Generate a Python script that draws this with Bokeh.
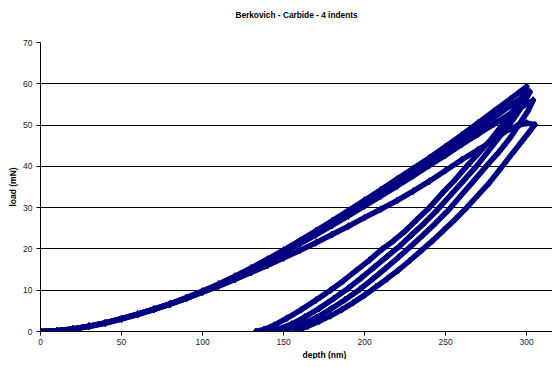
from bokeh.plotting import figure
from bokeh.models import Range1d, FixedTicker, Title
from bokeh.embed import file_html
from bokeh.resources import INLINE

title_text = "Berkovich - Carbide - 4 indents"
x_label = "depth (nm)"
y_label = "load (mN)"
x_ticks = [0, 50, 100, 150, 200, 250, 300]
y_ticks = [0, 10, 20, 30, 40, 50, 60, 70]

# indent 1 (highest peak)
ind1_load_depth = [0, 10, 20, 30, 40, 50, 60, 70, 80, 90, 100, 110, 120, 130, 140, 150, 160, 170, 180, 190, 200, 210, 220, 230, 240, 250, 260, 270, 280, 290, 300]
ind1_load_force = [0, 0.2, 0.6, 1.3, 2.1, 3.1, 4.2, 5.4, 6.7, 8.2, 9.8, 11.5, 13.4, 15.4, 17.5, 19.7, 22.0, 24.4, 26.8, 29.3, 31.8, 34.3, 36.9, 39.5, 42.1, 44.8, 47.6, 50.5, 53.4, 56.3, 59.3]
ind1_unload_depth = [300, 296, 291, 285, 278, 270, 263, 256, 248, 240, 232, 225, 218, 211, 203, 195, 187, 179, 170, 161, 152, 144, 138, 133]
ind1_unload_force = [59.3, 56.0, 53.0, 50.0, 46.5, 43.0, 40.0, 36.8, 33.5, 30.0, 27.0, 24.3, 22.0, 20.0, 17.3, 14.8, 12.3, 10.0, 7.6, 5.3, 3.2, 1.5, 0.5, 0]

# indent 2
ind2_load_depth = [0, 10, 20, 30, 40, 50, 60, 70, 80, 90, 100, 110, 120, 130, 140, 150, 160, 170, 180, 190, 200, 210, 220, 230, 240, 250, 260, 270, 280, 290, 302]
ind2_load_force = [0, 0.2, 0.6, 1.3, 2.1, 3.1, 4.2, 5.4, 6.7, 8.1, 9.7, 11.4, 13.2, 15.1, 17.1, 19.3, 21.6, 23.9, 26.3, 28.7, 31.1, 33.6, 36.1, 38.6, 41.1, 43.7, 46.4, 49.1, 51.9, 54.7, 58.0]
ind2_unload_depth = [302, 298, 292, 285, 277, 269, 261, 253, 245, 237, 229, 222, 214, 206, 198, 190, 181, 172, 163, 155, 147, 140]
ind2_unload_force = [58.0, 55.0, 51.5, 48.0, 44.0, 40.0, 36.5, 33.0, 29.5, 26.3, 23.4, 20.8, 18.2, 15.6, 13.0, 10.5, 8.0, 5.6, 3.5, 1.8, 0.6, 0]

# indent 3
ind3_load_depth = [0, 10, 20, 30, 40, 50, 60, 70, 80, 90, 100, 110, 120, 130, 140, 150, 160, 170, 180, 190, 200, 210, 220, 230, 240, 250, 260, 270, 280, 290, 304]
ind3_load_force = [0, 0.2, 0.6, 1.2, 2.0, 3.0, 4.1, 5.3, 6.6, 8.0, 9.6, 11.2, 13.0, 14.9, 16.9, 19.0, 21.2, 23.4, 25.7, 28.0, 30.4, 32.8, 35.2, 37.7, 40.2, 42.7, 45.3, 47.8, 50.3, 52.8, 56.0]
ind3_unload_depth = [304, 301, 296, 290, 283, 275, 267, 259, 252, 244, 236, 229, 221, 213, 205, 197, 188, 179, 170, 161, 153, 147]
ind3_unload_force = [56.0, 53.5, 50.5, 47.0, 43.5, 40.0, 36.3, 32.7, 29.5, 26.3, 23.3, 20.8, 18.0, 15.3, 12.7, 10.2, 7.7, 5.4, 3.3, 1.7, 0.6, 0]

# indent 4 (lowest peak)
ind4_load_depth = [0, 10, 20, 30, 40, 50, 60, 70, 80, 90, 100, 110, 120, 130, 140, 150, 160, 170, 180, 190, 200, 210, 220, 230, 240, 250, 260, 270, 280, 287, 294, 300, 305]
ind4_load_force = [0, 0.2, 0.6, 1.3, 2.1, 3.1, 4.2, 5.4, 6.6, 8.0, 9.5, 11.0, 12.6, 14.3, 16.0, 17.8, 19.6, 21.5, 23.5, 25.5, 27.6, 29.6, 31.7, 34.0, 36.4, 39.0, 41.6, 44.0, 46.4, 48.5, 49.8, 50.5, 50.1]
ind4_unload_depth = [305, 302, 298, 293, 288, 283, 277, 270, 263, 256, 249, 242, 235, 228, 221, 214, 207, 200, 193, 186, 179, 172, 165, 160, 157]
ind4_unload_force = [50.1, 48.5, 46.5, 44.0, 41.5, 39.0, 36.0, 33.0, 30.0, 27.2, 24.6, 22.0, 19.6, 17.2, 14.9, 12.8, 10.8, 8.8, 7.0, 5.3, 3.8, 2.5, 1.3, 0.5, 0]

series = [
    (ind1_load_depth, ind1_load_force), (ind1_unload_depth, ind1_unload_force),
    (ind2_load_depth, ind2_load_force), (ind2_unload_depth, ind2_unload_force),
    (ind3_load_depth, ind3_load_force), (ind3_unload_depth, ind3_unload_force),
    (ind4_load_depth, ind4_load_force), (ind4_unload_depth, ind4_unload_force),
]

NAVY = "#000080"
FONT = "Liberation Sans"

p = figure(width=552, height=359, output_backend="svg", toolbar_location=None, title=None,
           x_range=Range1d(0, 316), y_range=Range1d(0, 70),
           min_border_left=40, min_border_right=0, min_border_top=42, min_border_bottom=28)

# spacer nearest the frame, then the real title above it
p.add_layout(Title(text=" ", text_font_size="14px", standoff=0), "above")
p.add_layout(Title(text=title_text, align="center", offset=16, text_font=FONT, text_font_size="8.3px",
                   text_font_style="bold", text_color="#000000"), "above")

for xs, ys in series:
    p.line(xs, ys, line_color=NAVY, line_width=5.5, line_join="round", line_cap="round")
    p.scatter(xs, ys, marker="diamond", size=7, fill_color=NAVY, line_color=NAVY)

p.outline_line_color = None
p.background_fill_color = "white"
p.border_fill_color = "white"

p.xgrid.visible = False
p.ygrid.grid_line_color = "#000000"
p.ygrid.grid_line_width = 1
p.ygrid.ticker = FixedTicker(ticks=y_ticks)

p.xaxis.ticker = FixedTicker(ticks=x_ticks)
p.yaxis.ticker = FixedTicker(ticks=y_ticks)
p.yaxis.axis_label = y_label
for ax in (p.xaxis, p.yaxis):
    ax.axis_line_color = "#000000"
    ax.axis_line_width = 1
    ax.major_tick_line_color = "#000000"
    ax.major_tick_out = 4
    ax.major_tick_in = 0
    ax.minor_tick_line_color = None
    ax.major_label_text_font = FONT
    ax.major_label_text_font_size = "8.5px"
    ax.major_label_text_color = "#222222"
    ax.axis_label_text_font = FONT
    ax.axis_label_text_font_size = "8.5px"
    ax.axis_label_text_font_style = "bold"
    ax.axis_label_text_color = "#000000"
p.xaxis.major_label_standoff = 3
p.yaxis.major_label_standoff = 4
p.yaxis.axis_label_standoff = 2

# x-axis title, placed like the reference (slightly right of the frame centre)
p.add_layout(Title(text=x_label, align="left", offset=262, standoff=0, text_font=FONT,
                   text_font_size="8.5px", text_font_style="bold", text_color="#000000"), "below")

open("out.html", "w").write(file_html(p, INLINE))
